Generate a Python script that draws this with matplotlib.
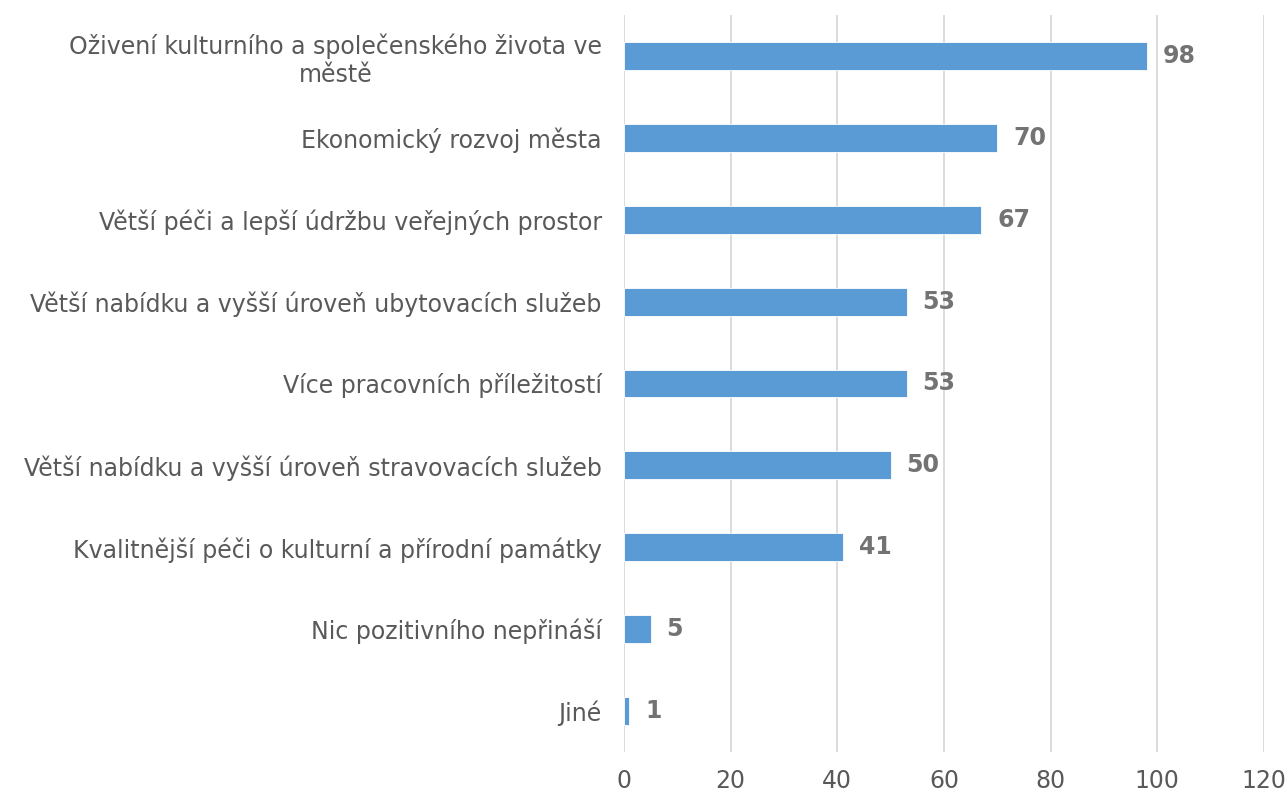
import matplotlib.pyplot as plt
import numpy as np

categories = [
    "Oživení kulturního a společenského života ve\nměstě",
    "Ekonomický rozvoj města",
    "Větší péči a lepší údržbu veřejných prostor",
    "Větší nabídku a vyšší úroveň ubytovacích služeb",
    "Více pracovních příležitostí",
    "Větší nabídku a vyšší úroveň stravovacích služeb",
    "Kvalitnější péči o kulturní a přírodní památky",
    "Nic pozitivního nepřináší",
    "Jiné",
]
values = [98, 70, 67, 53, 53, 50, 41, 5, 1]
xticks = [0, 20, 40, 60, 80, 100, 120]

plt.rcParams['font.family'] = ['DejaVu Sans']

fig = plt.figure(figsize=(12.88, 7.94), dpi=100)
ax = fig.add_axes([624 / 1288, 1 - 752 / 794, 640 / 1288, 737 / 794])

y = np.arange(len(categories))
bars = ax.barh(y, values, height=0.34, color="#5B9BD5", edgecolor="white",
               linewidth=0.6, zorder=3)

for b, v in zip(bars, values):
    ax.text(b.get_width() + 3, b.get_y() + b.get_height() / 2, str(v),
            va="center", ha="left", fontsize=17, fontweight="bold",
            color="#737373")

ax.set_ylim(len(categories) - 0.5, -0.5)
ax.set_xlim(0, 120)
ax.set_xticks(xticks)
ax.set_yticks(y)
ax.set_yticklabels(categories, fontsize=17, color="#595959",
                   multialignment="center")
ax.tick_params(axis="x", labelsize=17, labelcolor="#595959", length=0, pad=12)
ax.tick_params(axis="y", length=0, pad=16)
ax.xaxis.grid(True, color="#D9D9D9", linewidth=1.3, zorder=0)
for s in ax.spines.values():
    s.set_visible(False)

fig.savefig("out.png", dpi=100)
